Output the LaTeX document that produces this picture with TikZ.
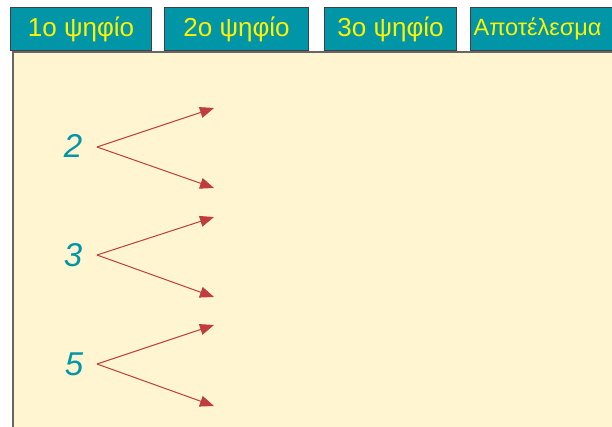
\documentclass[tikz,border=0pt]{standalone}
\usepackage{fontspec}
\setmainfont{Liberation Sans}
\usepackage{xcolor}
\usetikzlibrary{arrows.meta}

\definecolor{tealbox}{RGB}{0,150,168}
\definecolor{panelcream}{RGB}{255,245,208}
\definecolor{arrowred}{RGB}{190,62,62}

\tikzset{
  header/.style={draw=black!75,line width=1.2pt,fill=tealbox,text=yellow,
    font=\fontsize{26}{28}\selectfont,minimum height=43pt,inner sep=0pt,anchor=north west},
  digit/.style={text=tealbox,font=\fontsize{33}{36}\selectfont\itshape},
  branch/.style={arrowred,line width=1pt,-{Triangle[length=14pt,width=11pt]}}
}

\begin{document}
\begin{tikzpicture}[x=1pt,y=-1pt]
        \useasboundingbox (0,0) rectangle (612,427);
        \fill[white] (0,0) rectangle (612,427);
        % the work area
        \fill[panelcream] (13,52) rectangle (625,440);
        \draw[black!60,line width=2pt] (13,440) -- (13,52) -- (625,52);
        % column titles
        \node[header,minimum width=141pt] (d1) at (10,7) {1ο ψηφίο};
        \node[header,minimum width=144pt] (d2) at (164,7) {2ο ψηφίο};
        \node[header,minimum width=132pt] (d3) at (324,7) {3ο ψηφίο};
        \node[header,minimum width=148pt,align=left,text width=142pt,inner xsep=3pt,
          font=\fontsize{23.5}{28}\selectfont] (res) at (470,7) {Αποτέλεσμα};
        % first digits and their branches
        \node[digit] (n2) at (73,146) {2};
        \node[digit] (n3) at (73,255) {3};
        \node[digit] (n5) at (74,364) {5};
        \coordinate (s2) at (97,147);
        \coordinate (s3) at (97,255);
        \coordinate (s5) at (97,364);
        \coordinate (t2a) at (214,108);
        \coordinate (t2b) at (214,188);
        \coordinate (t3a) at (214,217);
        \coordinate (t3b) at (214,297);
        \coordinate (t5a) at (214,325);
        \coordinate (t5b) at (214,406);
        \draw[branch] (s2) -- (t2a);
        \draw[branch] (s2) -- (t2b);
        \draw[branch] (s3) -- (t3a);
        \draw[branch] (s3) -- (t3b);
        \draw[branch] (s5) -- (t5a);
        \draw[branch] (s5) -- (t5b);
      \end{tikzpicture}
\end{document}
